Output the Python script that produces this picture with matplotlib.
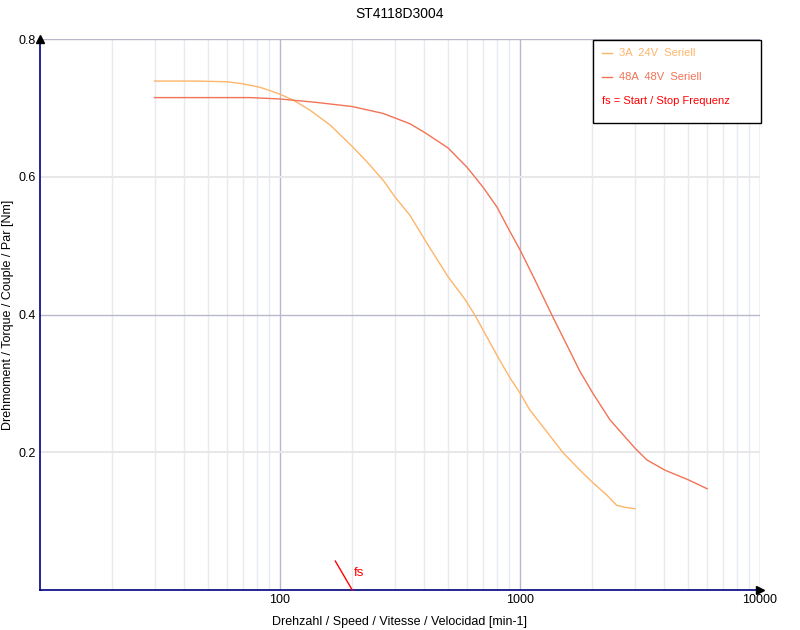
import matplotlib
matplotlib.use("Agg")
import matplotlib.pyplot as plt
from matplotlib.patches import Rectangle
from matplotlib.lines import Line2D
from matplotlib.ticker import FixedLocator, NullFormatter

plt.rcParams['font.family'] = ['Liberation Sans', 'DejaVu Sans']

# speed [min-1] and torque [Nm]
speed_3a = [30, 45, 60, 70, 82.5, 91, 100, 114, 133, 162, 200, 230, 269, 301,
            348, 402, 501, 590, 649, 810, 908, 1000, 1101, 1292, 1514, 1778,
            2009, 2297, 2529, 2738, 3013]
torque_3a = [0.739, 0.739, 0.738, 0.735, 0.730, 0.725, 0.720, 0.711, 0.697,
             0.675, 0.644, 0.622, 0.595, 0.571, 0.544, 0.508, 0.455, 0.422,
             0.399, 0.338, 0.308, 0.286, 0.261, 0.230, 0.199, 0.174, 0.156,
             0.138, 0.123, 0.120, 0.118]

speed_48a = [30, 75, 100, 142, 200, 269, 348, 402, 501, 601, 701, 802, 900,
             1000, 1155, 1359, 1662, 1767, 2009, 2371, 3013, 3372, 4017, 5024,
             6026]
torque_48a = [0.715, 0.715, 0.713, 0.708, 0.702, 0.692, 0.677, 0.664, 0.642,
              0.614, 0.585, 0.556, 0.523, 0.494, 0.450, 0.399, 0.338, 0.319,
              0.286, 0.247, 0.206, 0.189, 0.174, 0.160, 0.147]

fs_speed = [170, 200]
fs_torque = [0.042, 0.0]

labels = ['3A  24V  Seriell', '48A  48V  Seriell']
colors = ['#FDB56A', '#F27355']

fig = plt.figure(figsize=(8, 6.3), dpi=100)
ax = fig.add_axes([0.05, 0.0635, 0.90, 0.8745])

ax.set_xscale('log')
ax.set_xlim(10, 10000)
ax.set_ylim(0, 0.8)

# grid
for x in [20, 30, 40, 50, 60, 70, 80, 90, 200, 300, 400, 500, 600, 700, 800, 900,
          2000, 3000, 4000, 5000, 6000, 7000, 8000, 9000]:
    ax.axvline(x, color='#E6EAF1', lw=1, zorder=0)
for x in [100, 1000, 10000]:
    ax.axvline(x, color='#B8B8CC', lw=1, zorder=0)
for y in [0.2, 0.6]:
    ax.axhline(y, color='#E8E8E8', lw=1.5, zorder=0)
for y in [0.4, 0.8]:
    ax.axhline(y, color='#B8B8CC', lw=1, zorder=0)

ax.plot(speed_3a, torque_3a, color=colors[0], lw=1, zorder=2)
ax.plot(speed_48a, torque_48a, color=colors[1], lw=1, zorder=2)

# start/stop frequency marker
ax.plot(fs_speed, fs_torque, color='red', lw=1, zorder=3, clip_on=False)
ax.text(fs_speed[1] + 4, 0.016, 'fs', color='red', fontsize=9.5, va='bottom', ha='left')

# axes styling
for s in ['top', 'right']:
    ax.spines[s].set_visible(False)
for s in ['left', 'bottom']:
    ax.spines[s].set_color('#000080')
    ax.spines[s].set_linewidth(1.2)
ax.plot([0], [1], marker='^', color='black', markersize=6, transform=ax.transAxes, clip_on=False, zorder=5)
ax.plot([1], [0], marker='>', color='black', markersize=6, transform=ax.transAxes, clip_on=False, zorder=5)

ax.xaxis.set_major_locator(FixedLocator([100, 1000, 10000]))
ax.xaxis.set_minor_formatter(NullFormatter())
ax.xaxis.set_minor_locator(FixedLocator([]))
ax.set_xticklabels(['100', '1000', '10000'])
ax.set_yticks([0.2, 0.4, 0.6, 0.8])
ax.set_yticklabels(['0.2', '0.4', '0.6', '0.8'])
ax.tick_params(length=0, labelsize=9, pad=3)

ax.set_xlabel('Drehzahl / Speed / Vitesse / Velocidad [min-1]', fontsize=9, labelpad=7)
ax.set_ylabel('Drehmoment / Torque / Couple / Par [Nm]', fontsize=9)
ax.yaxis.set_label_coords(-0.036, 0.5)
ax.set_title('ST4118D3004', fontsize=10, pad=15)

# legend box
fig.patches.append(Rectangle((593 / 800, 1 - 123 / 630), 168 / 800, 83 / 630,
                             transform=fig.transFigure, facecolor='white',
                             edgecolor='black', lw=1, zorder=10))
for i, (lab, c) in enumerate(zip(labels, colors)):
    yy = 1 - (53 + 24 * i) / 630
    fig.lines.append(Line2D([602 / 800, 612 / 800], [yy, yy], transform=fig.transFigure,
                            color=c, lw=1, zorder=11))
    fig.text(619 / 800, yy, lab, color=c, fontsize=8, va='center', ha='left', zorder=11)
fig.text(602 / 800, 1 - 101 / 630, 'fs = Start / Stop Frequenz', color='red',
         fontsize=8, va='center', ha='left', zorder=11)

fig.savefig('out.png', dpi=100)
